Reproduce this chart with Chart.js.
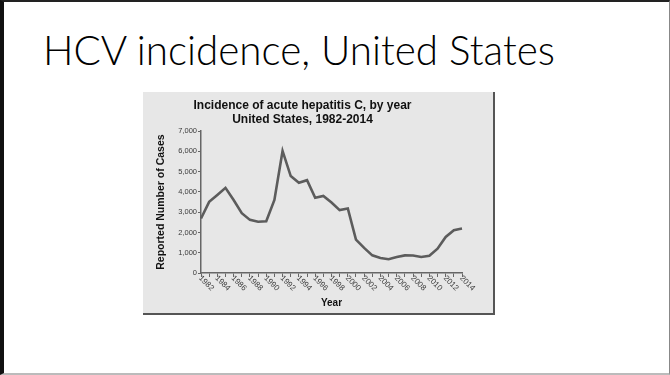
<!DOCTYPE html>
<html>
<head>
<meta charset="utf-8">
<script src="https://cdn.jsdelivr.net/npm/chart.js@4.4.0/dist/chart.umd.min.js"></script>
<style>
  html, body { margin: 0; padding: 0; background: #fff; }
  body { width: 670px; height: 375px; position: relative; overflow: hidden; }
  #slide {
    position: absolute; left: 0; top: 0; width: 670px; height: 375px; box-sizing: border-box;
    border-left: 4px solid #111; border-top: 2px solid #222;
    border-right: 1px solid #888; border-bottom: 2px solid #bbb;
  }
  #heading {
    position: absolute; left: 43px; top: 30px;
    font-family: Lato, "Noto Sans", sans-serif; font-weight: 300;
    font-size: 34px; line-height: 1; color: #000; white-space: nowrap;
  }
  #panel {
    position: absolute; left: 143px; top: 92px; width: 350px; height: 221px;
    background: #e7e7e7; border-right: 2px solid #555; border-bottom: 2px solid #555;
  }
  #panel canvas { display: block; }
</style>
</head>
<body>
<div id="slide"></div>
<div id="heading">HCV incidence, United States</div>
<div id="panel"><canvas id="chart" width="350" height="221"></canvas></div>
<script>
// Reported acute hepatitis C cases per year
const years = ['1982','1983','1984','1985','1986','1987','1988','1989','1990','1991','1992',
               '1993','1994','1995','1996','1997','1998','1999','2000','2001','2002','2003',
               '2004','2005','2006','2007','2008','2009','2010','2011','2012','2013','2014'];
const cases = [2690, 3510, 3850, 4200, 3600, 2950, 2620, 2530, 2550, 3600, 6020,
               4780, 4450, 4580, 3710, 3800, 3480, 3100, 3180, 1650, 1240, 870,
               740, 680, 790, 870, 860, 790, 850, 1200, 1780, 2110, 2190];
// Every other year is labelled on the x axis
const yearLabels = ['1982','1984','1986','1988','1990','1992','1994','1996','1998',
                    '2000','2002','2004','2006','2008','2010','2012','2014'];
const yTicks = [0, 1000, 2000, 3000, 4000, 5000, 6000, 7000];
const chartTitle = ['Incidence of acute hepatitis C, by year', 'United States, 1982-2014'];
const yAxisTitle = 'Reported Number of Cases';
const xAxisTitle = 'Year';

// Fit the slide heading to its line width
(function () {
  const el = document.getElementById('heading');
  const w = el.getBoundingClientRect().width;
  el.style.fontSize = (34 * 512 / w).toFixed(2) + 'px';
})();

const FONT = '"Liberation Sans", Arial, sans-serif';
const AXIS = '#666';

// Draws the slanted year labels below the x axis
const slantedYears = {
  id: 'slantedYears',
  afterDraw(chart) {
    const x = chart.scales.x;
    const ctx = chart.ctx;
    ctx.save();
    ctx.font = '8px ' + FONT;
    ctx.fillStyle = '#3a3a3a';
    ctx.textAlign = 'left';
    ctx.textBaseline = 'middle';
    yearLabels.forEach(lbl => {
      const i = years.indexOf(lbl);
      const px = x.getPixelForValue(i);
      ctx.save();
      ctx.translate(px - 1, x.top + 4);
      ctx.rotate(Math.PI / 4);
      ctx.fillText(lbl, 0, 0);
      ctx.restore();
    });
    ctx.restore();
  }
};

new Chart(document.getElementById('chart'), {
  type: 'line',
  data: {
    labels: years,
    datasets: [{
      data: cases,
      borderColor: '#5c5c5c',
      borderWidth: 2.6,
      pointRadius: 0,
      tension: 0,
      fill: false
    }]
  },
  options: {
    responsive: false,
    animation: false,
    devicePixelRatio: 1,
    layout: { padding: { left: 0, right: 31, top: 0, bottom: 0 } },
    plugins: {
      legend: { display: false },
      tooltip: { enabled: false },
      title: {
        display: true,
        text: chartTitle,
        color: '#111',
        font: { family: FONT, size: 12, weight: 'bold', lineHeight: 1.17 },
        padding: { top: 7, bottom: 4 }
      }
    },
    scales: {
      x: {
        type: 'category',
        offset: false,
        grid: { drawOnChartArea: false, drawTicks: true, tickLength: 4, color: AXIS, lineWidth: 1 },
        border: { display: true, color: AXIS, width: 1.5 },
        ticks: { display: false, autoSkip: false },
        title: {
          display: true, text: xAxisTitle, color: '#111',
          font: { family: FONT, size: 10, weight: 'bold' },
          padding: { top: 0, bottom: 4 }
        },
        afterFit(scale) { scale.height = 40; }
      },
      y: {
        min: 0,
        max: 7000,
        afterBuildTicks(scale) { scale.ticks = yTicks.map(v => ({ value: v })); },
        grid: { drawOnChartArea: false, drawTicks: true, tickLength: 3, color: AXIS, lineWidth: 1 },
        border: { display: true, color: AXIS, width: 1.5 },
        ticks: {
          color: '#3a3a3a',
          padding: 1,
          font: { family: FONT, size: 7.5 },
          callback: v => v.toLocaleString('en-US')
        },
        title: {
          display: true, text: yAxisTitle, color: '#111',
          font: { family: FONT, size: 10.5, weight: 'bold' },
          padding: { top: 12, bottom: 0 }
        },
        afterFit(scale) { scale.width = 58; }
      }
    }
  },
  plugins: [slantedYears]
});
</script>
</body>
</html>
